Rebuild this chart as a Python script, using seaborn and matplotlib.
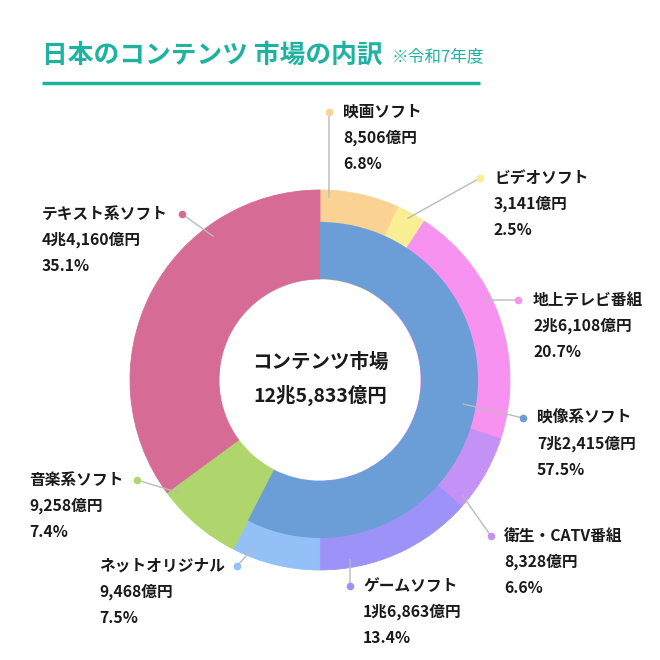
import math
import matplotlib
matplotlib.use('Agg')
from matplotlib import pyplot as plt
import seaborn as sns

# outer ring (sub categories, 億円)
names = ['映画ソフト', 'ビデオソフト', '地上テレビ番組', '衛生・CATV番組',
         'ゲームソフト', 'ネットオリジナル', '音楽系ソフト', 'テキスト系ソフト']
amounts = [8506, 3141, 26108, 8328, 16863, 9468, 9258, 44160]
amount_labels = ['8,506億円', '3,141億円', '2兆6,108億円', '8,328億円',
                 '1兆6,863億円', '9,468億円', '9,258億円', '4兆4,160億円']
pcts = ['6.8%', '2.5%', '20.7%', '6.6%', '13.4%', '7.5%', '7.4%', '35.1%']
colors = ['#FAD294', '#FAEE94', '#F792F0', '#C492F7',
          '#9D92F7', '#92C0F7', '#AED66C', '#D66C96']

# inner ring (main categories)
inner_names = ['映像系ソフト', '音楽系ソフト', 'テキスト系ソフト']
inner_amounts = [72415, 9258, 44160]
inner_amount_labels = ['7兆2,415億円', '9,258億円', '4兆4,160億円']
inner_pcts = ['57.5%', '7.4%', '35.1%']
inner_colors = ['#6B9ED6', 'none', 'none']

total_label = '12兆5,833億円'

sns.set_theme(style='white')
plt.rcParams['font.family'] = ['Noto Sans CJK JP', 'DejaVu Sans']

TEAL = '#1DB3A0'
TXT = '#1a1a1a'
CX, CY = 320, 380

fig = plt.figure(figsize=(6.6, 6.6), dpi=100)
ax = fig.add_axes([0, 0, 1, 1])

# full-width ring first, then the blue inner part on top
wedges, _ = ax.pie(amounts, radius=190, center=(CX, CY), startangle=-90, counterclock=True,
                   colors=colors, wedgeprops=dict(width=89, linewidth=0.6))
for w in wedges:
    # same-colour edge hides the hairline seams between slices
    w.set_edgecolor(w.get_facecolor())
ax.pie(inner_amounts, radius=158, center=(CX, CY), startangle=-90, counterclock=True,
       colors=inner_colors, wedgeprops=dict(width=57, linewidth=0))

ax.set_xlim(0, 660)
ax.set_ylim(660, 0)
ax.set_aspect('equal')
ax.axis('off')

# callout layout: (label, amount, pct, colour, anchor clock-angle, anchor radius, dot xy, text x)
callouts = [
    (names[0], amount_labels[0], pcts[0], colors[0], 2.8, 183, (329, 112), 343),
    (names[1], amount_labels[1], pcts[1], colors[1], 28.5, 184, (480, 178), 494),
    (names[2], amount_labels[2], pcts[2], colors[2], 64.1, 183, (518, 300), 533),
    (inner_names[0], inner_amount_labels[0], inner_pcts[0], inner_colors[0], 99.5, 145, (523, 418), 537),
    (names[3], amount_labels[3], pcts[3], colors[3], 129, 183, (491, 536), 504),
    (names[4], amount_labels[4], pcts[4], colors[4], 170.5, 182, (350, 586), 363),
    (names[5], amount_labels[5], pcts[5], colors[5], 201.7, 181, (237, 566), 99),
    (names[6], amount_labels[6], pcts[6], colors[6], 231.1, 180, (137, 480), 29),
    (names[7], amount_labels[7], pcts[7], colors[7], 323.4, 179, (182, 214), 42),
]

for name, amt, pct, col, ang, r, (dx, dy), tx in callouts:
    a = math.radians(ang)
    axp = CX + r * math.sin(a)
    ayp = CY - r * math.cos(a)
    ax.plot([axp, dx], [ayp, dy], color='#BBBBBB', lw=1, zorder=3)
    ax.plot(dx, dy, 'o', color=col, ms=5.5, mec='none', zorder=4)
    for i, line in enumerate([name, amt, pct]):
        ax.text(tx, dy + i * 25.8, line, fontsize=11.3, fontweight='bold',
                color=TXT, ha='left', va='center')

ax.text(CX, 362, 'コンテンツ市場', fontsize=14, fontweight='bold', color=TXT,
        ha='center', va='center')
ax.text(CX, 395, total_label, fontsize=14, fontweight='bold', color=TXT,
        ha='center', va='center')

# title
ax.text(42, 55, '日本のコンテンツ 市場の内訳', fontsize=18.5, fontweight='bold',
        color=TEAL, ha='left', va='center')
ax.text(392, 57, '※令和7年度', fontsize=12, color=TEAL, ha='left', va='center')
ax.plot([42, 480], [83, 83], color=TEAL, lw=2.5, solid_capstyle='butt')

plt.savefig('out.png', dpi=100)
